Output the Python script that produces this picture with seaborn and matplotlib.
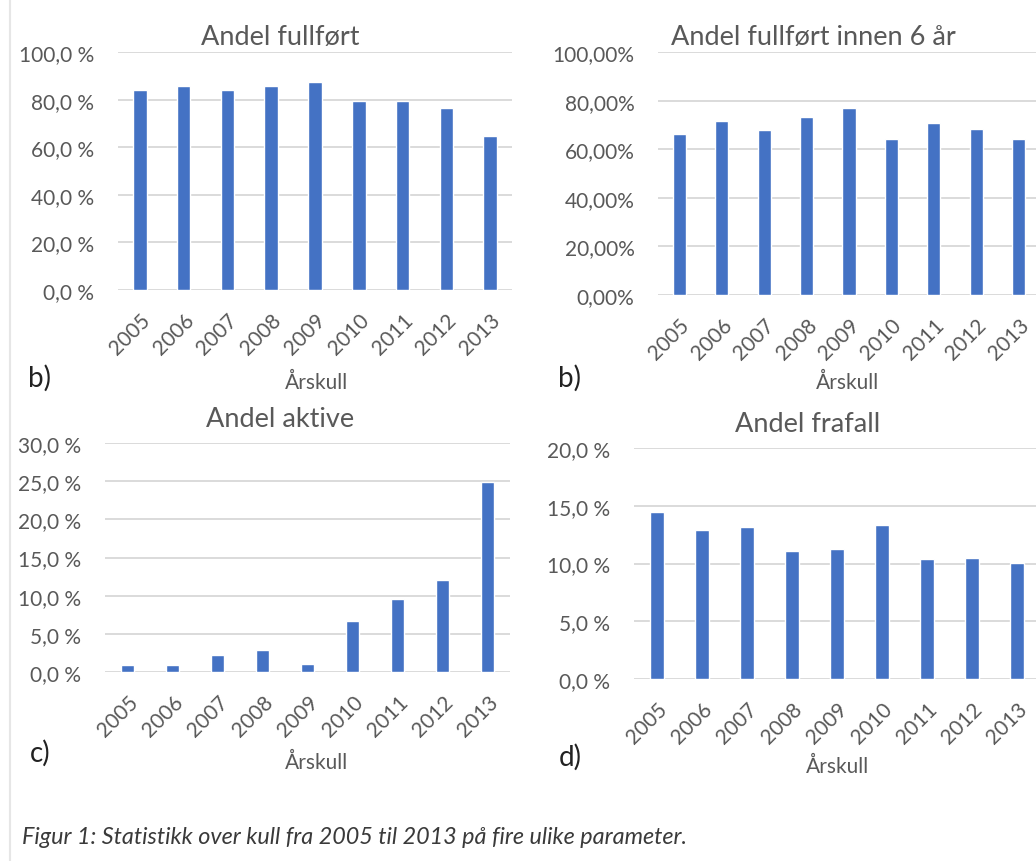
import seaborn as sns
import matplotlib.pyplot as plt
from matplotlib.ticker import FuncFormatter

# data
years = ["2005", "2006", "2007", "2008", "2009", "2010", "2011", "2012", "2013"]
fullfort = [84.1, 85.6, 84.1, 85.6, 87.3, 79.4, 79.4, 76.6, 64.8]
fullfort_6ar = [66.4, 71.6, 68.0, 73.3, 77.0, 64.3, 70.6, 68.4, 64.3]
aktive = [0.9, 0.9, 2.2, 2.9, 1.05, 6.7, 9.6, 12.1, 24.9]
frafall = [14.45, 12.9, 13.15, 11.05, 11.25, 13.35, 10.35, 10.5, 10.05]

titles = ["Andel fullført", "Andel fullført innen 6 år", "Andel aktive", "Andel frafall"]
tags = ["b)", "b)", "c)", "d)"]
caption = "Figur 1: Statistikk over kull fra 2005 til 2013 på fire ulike parameter."

sns.set_style("white")
plt.rcParams['font.family'] = ['Lato', 'DejaVu Sans']

W, H = 1036, 862
fig = plt.figure(figsize=(W / 100, H / 100), dpi=100)

BLUE = "#4472C4"
GREY = "#595959"


def px_axes(left, top, right, bottom):
    return fig.add_axes([left / W, 1 - bottom / H, (right - left) / W, (bottom - top) / H])


fmt1 = FuncFormatter(lambda v, p: f"{v:.1f} %".replace(".", ","))
fmt2 = FuncFormatter(lambda v, p: f"{v:.2f}%".replace(".", ","))

# (box, values, ymax, step, formatter, title pos, xlabel pos, tag pos)
panels = [
    ((118, 53, 512, 291), fullfort, 100, 20, fmt1, (280, 38), (317, 383), (40, 378)),
    ((658, 53, 1040, 296), fullfort_6ar, 100, 20, fmt2, (813, 38), (848, 383), (570, 378)),
    ((105, 444, 510, 673), aktive, 30, 5, fmt1, (280, 420), (317, 763), (40, 753)),
    ((634, 449, 1040, 680), frafall, 20, 5, fmt1, (808, 425), (838, 767), (570, 757)),
]

for i, (box, vals, ymax, step, fmt, tpos, xpos, gpos) in enumerate(panels):
    ax = px_axes(*box)
    sns.barplot(x=years, y=vals, ax=ax, color=BLUE, width=0.31, saturation=1)
    ax.set_xlim(-0.5, 8.5)
    ax.set_ylim(0, ymax)
    ax.set_yticks(range(0, ymax + 1, step))
    ax.yaxis.set_major_formatter(fmt)
    ax.yaxis.grid(True, color="#d4d4d4", lw=1.2)
    ax.set_axisbelow(True)
    for s in ax.spines.values():
        s.set_visible(False)
    ax.tick_params(axis="both", length=0, labelsize=15, colors=GREY)
    ax.tick_params(axis="y", pad=17)
    ax.tick_params(axis="x", pad=14)
    for lab in ax.get_xticklabels():
        lab.set_rotation(45)
        lab.set_ha("right")
        lab.set_rotation_mode("anchor")
    ax.set_xlabel("")
    ax.set_ylabel("")

    fig.text(tpos[0] / W, 1 - tpos[1] / H, titles[i], ha="center", va="center",
             fontsize=19.5, color=GREY)
    fig.text(xpos[0] / W, 1 - xpos[1] / H, "Årskull", ha="center", va="center",
             fontsize=15, color=GREY)
    fig.text(gpos[0] / W, 1 - gpos[1] / H, tags[i], ha="center", va="center",
             fontsize=20, color="#222222")

# faint page border on the left and caption
fig.add_artist(plt.Line2D([10 / W, 10 / W], [0, 1], color="#e6e6e6", lw=1.5))
fig.text(22 / W, 1 - 838 / H, caption, ha="left", va="center", fontsize=16.8,
         style="italic", color="#3a3a3a")

fig.savefig("out.png", dpi=100)
